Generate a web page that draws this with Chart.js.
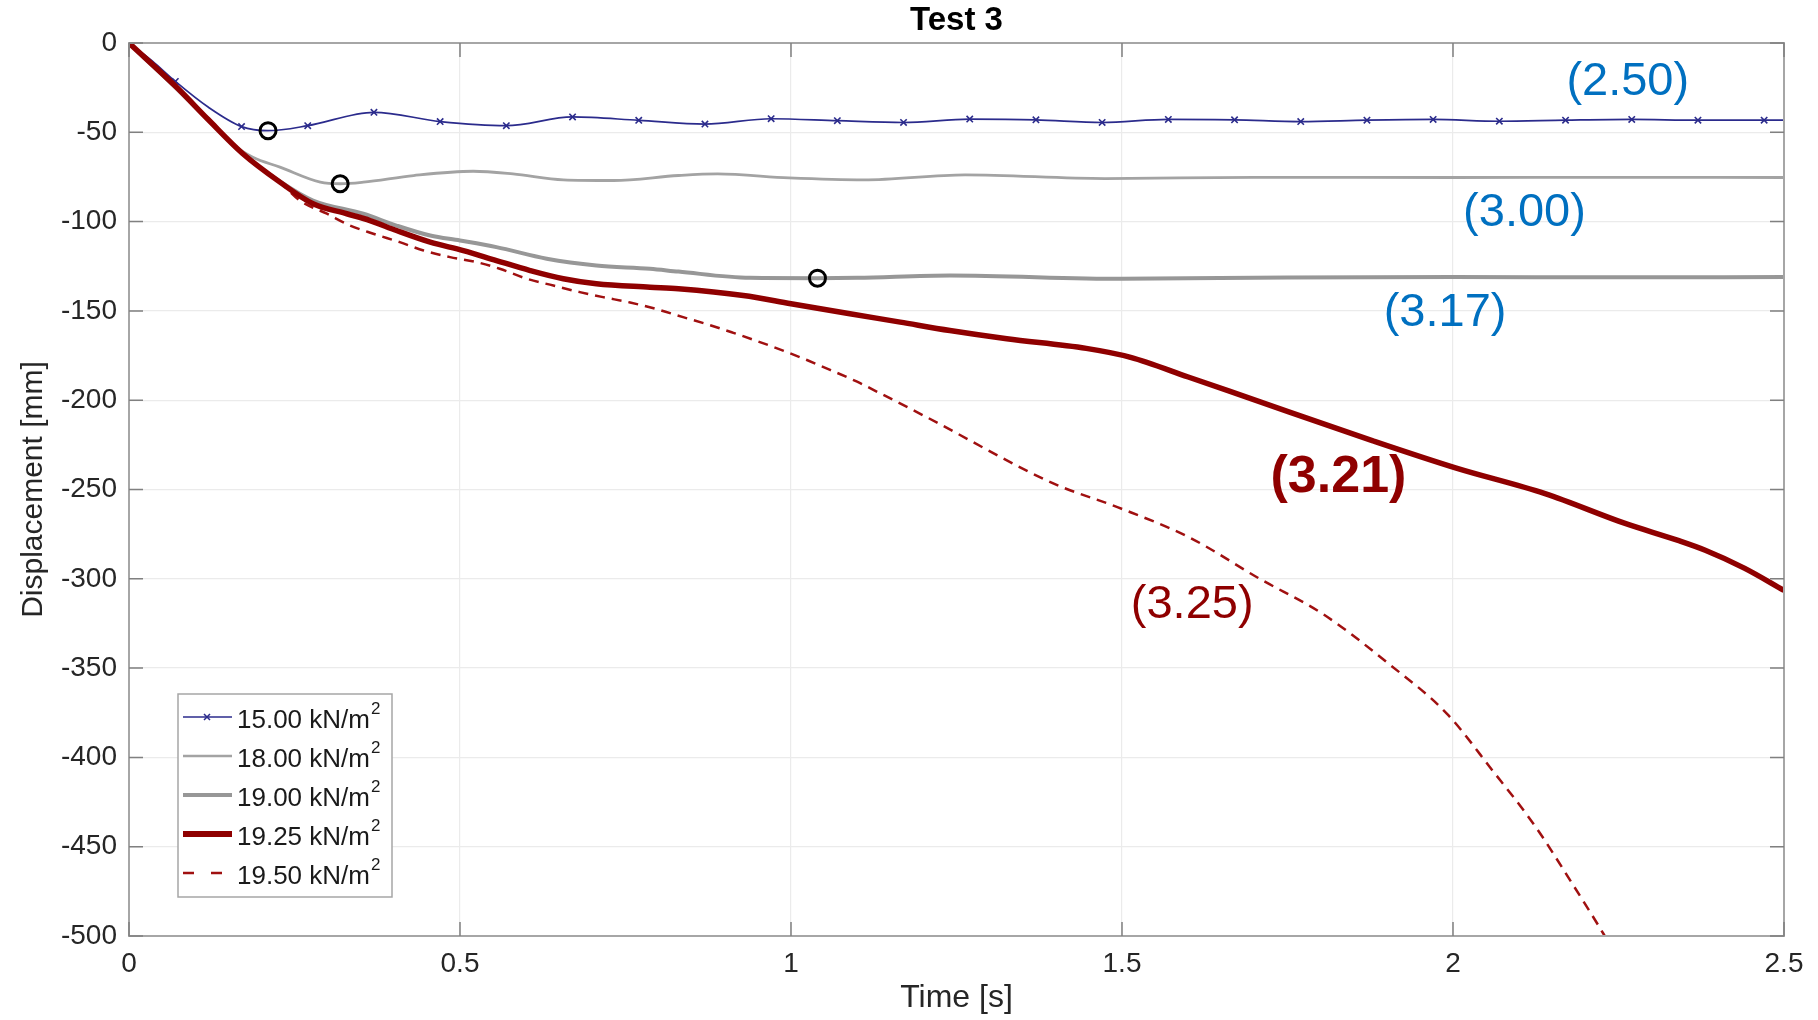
<!DOCTYPE html>
<html>
<head>
<meta charset="utf-8">
<title>Test 3</title>
<script src="https://cdn.jsdelivr.net/npm/chart.js@4.4.0/dist/chart.umd.min.js"></script>
<style>
  html, body { margin: 0; padding: 0; background: #fff; }
  #wrap { width: 1818px; height: 1020px; }
</style>
</head>
<body>
<div id="wrap"><canvas id="chart" width="1818" height="1020"></canvas></div>
<script>
// series names (legend)
const seriesNames = ['15.00 kN/m²', '18.00 kN/m²', '19.00 kN/m²', '19.25 kN/m²', '19.50 kN/m²'];

// 15.00 kN/m2
const t15 = [0, 0.035, 0.07, 0.12, 0.17, 0.21, 0.27, 0.37, 0.47, 0.57, 0.67, 0.77, 0.87, 0.97, 1.07,
  1.17, 1.27, 1.37, 1.47, 1.57, 1.67, 1.77, 1.87, 1.97, 2.07, 2.17, 2.27, 2.37, 2.47, 2.5];
const v15 = [0, -10, -21.5, -36, -46.8, -49.1, -46.3, -38.8, -44.0, -46.3, -41.4, -43.3, -45.4, -42.4, -43.5,
  -44.5, -42.6, -43.0, -44.5, -42.8, -43.0, -44.0, -43.2, -42.8, -43.8, -43.2, -42.8, -43.2, -43.2, -43.2];

// 18.00 kN/m2
const t18 = [0, 0.07, 0.12, 0.156, 0.187, 0.228, 0.289, 0.319, 0.354, 0.43, 0.52, 0.58, 0.656, 0.732, 0.83, 0.889,
  0.997, 1.11, 1.263, 1.474, 1.7, 2.0, 2.25, 2.5];
const v18 = [0, -24.5, -42.5, -56.5, -64, -69.5, -77.9, -78.8, -77.9, -74.2, -71.8, -73.3, -76.6, -77, -74.2, -73.3,
  -75.5, -76.6, -73.8, -75.9, -75.2, -75.3, -75.2, -75.3];

// 19.00 kN/m2
const t19 = [0, 0.07, 0.12, 0.172, 0.228, 0.278, 0.354, 0.404, 0.455, 0.5, 0.555, 0.631, 0.706, 0.787, 0.83, 0.938,
  1.04, 1.1, 1.24, 1.5, 1.75, 2.0, 2.25, 2.5];
const v19 = [0, -24.8, -43, -62, -77.5, -88.2, -95.6, -102.2, -107.8, -110.6, -114.3, -120.8, -124.6, -126.4, -128, -131.5,
  -131.7, -131.5, -130.2, -132, -131.3, -131, -131.2, -131];

// 19.25 kN/m2
const t1925 = [0, 0.072, 0.12, 0.172, 0.228, 0.278, 0.329, 0.364, 0.404, 0.455, 0.505, 0.555, 0.606, 0.656, 0.706, 0.787,
  0.83, 0.928, 1.0, 1.089, 1.165, 1.24, 1.326, 1.446, 1.513, 1.6, 1.686, 1.878, 2.005, 2.139, 2.26, 2.34, 2.381, 2.44, 2.5];
const v1925 = [0, -24.8, -43, -62, -77.9, -90, -95.6, -99.4, -105, -111.5, -116.2, -121.8, -127.4, -132, -134.8, -136.7,
  -137.6, -141.4, -146, -151.6, -156.3, -161, -165.6, -171, -176, -187, -198, -222.6, -238, -252.3, -269, -278.5, -284, -294, -306.5];

// 19.50 kN/m2
const t1950 = [0, 0.072, 0.12, 0.172, 0.228, 0.258, 0.299, 0.334, 0.369, 0.409, 0.445, 0.485, 0.525, 0.56, 0.601, 0.641,
  0.681, 0.716, 0.757, 0.797, 0.837, 0.878, 0.913, 0.948, 0.988, 1.024, 1.059, 1.099, 1.134, 1.205, 1.397, 1.494, 1.601,
  1.708, 1.803, 1.903, 1.991, 2.059, 2.125, 2.18, 2.227, 2.245];
const v1950 = [0, -24.8, -43, -62, -77.9, -88.2, -95.6, -102.2, -106.8, -111.5, -116.2, -119.9, -122.7, -126.4, -132, -135.8,
  -139.5, -142.3, -145.3, -149, -153.5, -158, -162.3, -166.8, -172.2, -177.5, -183, -189.5, -196, -209.5, -246.7, -260, -276.7,
  -300, -319.6, -347.6, -375.6, -407, -439, -470.6, -498.6, -510];

// circled points (end of motion)
const circT = [0.21, 0.319, 1.04];
const circV = [-49.1, -78.8, -131.7];

// axis ticks
const xTicks = [0, 0.5, 1, 1.5, 2, 2.5];
const yTicks = [0, -50, -100, -150, -200, -250, -300, -350, -400, -450, -500];

// labels written on the plot
const noteText = ['(2.50)', '(3.00)', '(3.17)', '(3.21)', '(3.25)'];
const noteT = [2.264, 2.108, 1.988, 1.827, 1.606];
const noteV = [-21.7, -95.2, -151.0, -243.6, -314.7];

const FONT = "'Liberation Sans', Arial, Helvetica, sans-serif";
const BLUE = '#2b2b8c';
const RED = '#8f0000';

function pts(t, v) { return t.map((x, i) => ({ x: x, y: v[i] })); }
function isMarker(t) {
  const k = (t - 0.07) * 10;
  return t === 0 || Math.abs(k - Math.round(k)) < 0.01;
}

// box, inward ticks, title, legend and labels, matlab style
const decor = {
  id: 'decor',
  afterDatasetsDraw(chart) {
    const { ctx, chartArea: a, scales: { x, y } } = chart;
    ctx.save();
    ctx.strokeStyle = '#a6a6a6';
    ctx.lineWidth = 2;
    ctx.strokeRect(a.left, a.top, a.right - a.left, a.bottom - a.top);
    ctx.strokeStyle = '#808080';
    ctx.lineWidth = 1.5;
    ctx.beginPath();
    xTicks.forEach(v => {
      const px = x.getPixelForValue(v);
      ctx.moveTo(px, a.bottom); ctx.lineTo(px, a.bottom - 14);
      ctx.moveTo(px, a.top); ctx.lineTo(px, a.top + 14);
    });
    yTicks.forEach(v => {
      const py = y.getPixelForValue(v);
      ctx.moveTo(a.left, py); ctx.lineTo(a.left + 14, py);
      ctx.moveTo(a.right, py); ctx.lineTo(a.right - 14, py);
    });
    ctx.stroke();
    ctx.restore();
  },
  afterDraw(chart) {
    const { ctx, chartArea: a, scales: { x, y } } = chart;
    ctx.save();

    // title
    ctx.fillStyle = '#000';
    ctx.font = 'bold 33px ' + FONT;
    ctx.textAlign = 'center';
    ctx.textBaseline = 'middle';
    ctx.fillText('Test 3', (a.left + a.right) / 2, 21);

    // notes
    noteText.forEach((s, i) => {
      const bold = i === 3;
      ctx.font = (bold ? 'bold 52px ' : '47px ') + FONT;
      ctx.fillStyle = i < 3 ? '#0070c0' : RED;
      ctx.fillText(s, x.getPixelForValue(noteT[i]), y.getPixelForValue(noteV[i]));
    });

    // legend
    const L = 178, T = 694, W = 214, H = 203;
    ctx.fillStyle = '#fff';
    ctx.fillRect(L, T, W, H);
    ctx.strokeStyle = '#a6a6a6';
    ctx.lineWidth = 1.5;
    ctx.strokeRect(L, T, W, H);
    ctx.textAlign = 'left';
    ctx.textBaseline = 'middle';
    chart.data.datasets.slice(0, 5).forEach((ds, i) => {
      const ly = 717 + i * 39;
      ctx.save();
      ctx.strokeStyle = ds.borderColor;
      ctx.lineWidth = ds.legendWidth;
      ctx.setLineDash(ds.borderDash ? [11, 17] : []);
      ctx.beginPath();
      ctx.moveTo(183, ly); ctx.lineTo(232, ly);
      ctx.stroke();
      ctx.restore();
      if (i === 0) {
        ctx.save();
        ctx.strokeStyle = BLUE; ctx.lineWidth = 1.5;
        ctx.beginPath();
        ctx.moveTo(204, ly - 3); ctx.lineTo(210, ly + 3);
        ctx.moveTo(204, ly + 3); ctx.lineTo(210, ly - 3);
        ctx.stroke();
        ctx.restore();
      }
      const name = ds.label.replace('²', '');
      ctx.fillStyle = '#1a1a1a';
      ctx.font = '26px ' + FONT;
      ctx.fillText(name, 237, ly + 4);
      const w = ctx.measureText(name).width;
      ctx.font = '17px ' + FONT;
      ctx.fillText('2', 237 + w + 1, ly - 8);
    });
    ctx.restore();
  }
};

const tickFont = { family: FONT, size: 28 };

new Chart(document.getElementById('chart'), {
  type: 'line',
  data: {
    datasets: [
      {
        label: seriesNames[0], data: pts(t15, v15), order: 5,
        borderColor: BLUE, borderWidth: 1.7, legendWidth: 1.5,
        pointStyle: 'crossRot', pointBorderColor: BLUE, pointBorderWidth: 1.6,
        pointRadius: c => isMarker(t15[c.dataIndex]) ? 4.5 : 0
      },
      {
        label: seriesNames[1], data: pts(t18, v18), order: 4,
        borderColor: '#a3a3a3', borderWidth: 2.8, legendWidth: 2.5, pointRadius: 0
      },
      {
        label: seriesNames[2], data: pts(t19, v19), order: 3,
        borderColor: '#979797', borderWidth: 4, legendWidth: 4, pointRadius: 0
      },
      {
        label: seriesNames[3], data: pts(t1925, v1925), order: 1,
        borderColor: RED, borderWidth: 5.5, legendWidth: 6, pointRadius: 0
      },
      {
        label: seriesNames[4], data: pts(t1950, v1950), order: 2, clip: 0,
        borderColor: '#a01010', borderWidth: 2.5, legendWidth: 2.5, borderDash: [10, 7], pointRadius: 0
      },
      {
        label: 'end', data: pts(circT, circV), order: 0, showLine: false,
        pointStyle: 'circle', pointRadius: 8, pointBorderWidth: 3,
        pointBorderColor: '#000', pointBackgroundColor: 'rgba(0,0,0,0)'
      }
    ]
  },
  options: {
    responsive: false,
    animation: false,
    events: [],
    datasets: { line: { cubicInterpolationMode: 'monotone', fill: false } },
    layout: { padding: { left: 0, right: 34, top: 43, bottom: 0 } },
    plugins: { legend: { display: false }, tooltip: { enabled: false }, title: { display: false } },
    scales: {
      x: {
        type: 'linear', min: 0, max: 2.5,
        afterBuildTicks: s => { s.ticks = xTicks.map(v => ({ value: v })); },
        afterFit: s => { s.height = 84; },
        ticks: { font: tickFont, color: '#262626', padding: 11, maxRotation: 0, callback: v => String(v) },
        grid: { color: '#ebebeb', lineWidth: 1.2, drawTicks: false },
        border: { display: false },
        title: { display: true, text: 'Time [s]', font: { family: FONT, size: 32 }, color: '#262626', padding: { top: 0, bottom: 3 } }
      },
      y: {
        type: 'linear', min: -500, max: 0,
        afterBuildTicks: s => { s.ticks = yTicks.slice().reverse().map(v => ({ value: v })); },
        afterFit: s => { s.width = 129; },
        ticks: { font: tickFont, color: '#262626', padding: 12, callback: v => String(v) },
        grid: { color: '#ebebeb', lineWidth: 1.2, drawTicks: false },
        border: { display: false },
        title: { display: true, text: 'Displacement [mm]', font: { family: FONT, size: 30 }, color: '#262626', padding: { top: 16, bottom: 0 } }
      }
    }
  },
  plugins: [decor]
});
</script>
</body>
</html>
